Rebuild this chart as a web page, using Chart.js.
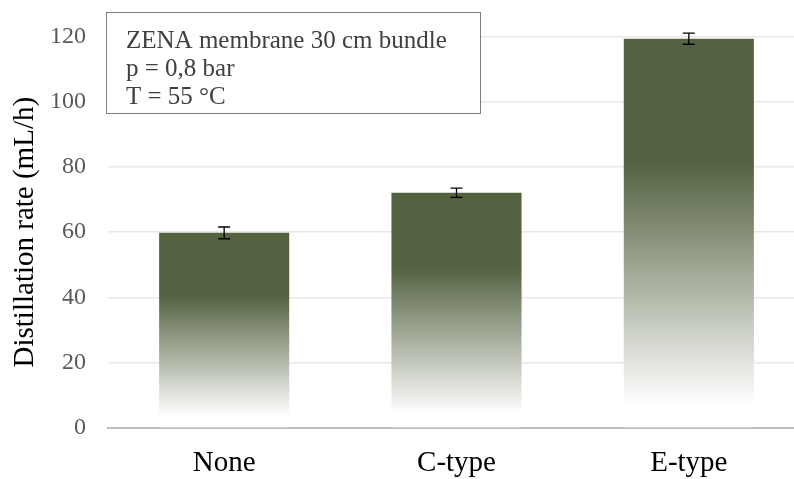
<!DOCTYPE html>
<html>
<head>
<meta charset="utf-8">
<script src="https://cdn.jsdelivr.net/npm/chart.js@4.4.0/dist/chart.umd.min.js"></script>
<style>
  html, body { margin: 0; padding: 0; background: #fff; overflow: hidden; }
  #wrap { width: 806px; height: 479px; }
</style>
</head>
<body>
<div id="wrap"><canvas id="chart"></canvas></div>
<script>
// donnees
const categories = ["None", "C-type", "E-type"];
const rates = [59.8, 72.1, 119.3];
const errors = [1.8, 1.4, 1.7];
const yTicks = [0, 20, 40, 60, 80, 100, 120];
const noteLines = ["ZENA membrane 30 cm bundle", "p = 0,8 bar", "T = 55 °C"];

const serif = "'Liberation Serif', 'Times New Roman', serif";
const olive = "#546241";

// degrade vertical propre a chaque barre
function barFill(c) {
    const chart = c.chart;
    const ys = chart.scales.y;
    if (c.type !== "data" || !ys) return olive;
    const top = ys.getPixelForValue(c.raw);
    const bot = ys.getPixelForValue(0);
    if (!isFinite(top) || !isFinite(bot) || bot <= top) return olive;
    const g = chart.ctx.createLinearGradient(0, top, 0, bot);
    g.addColorStop(0, olive);
    g.addColorStop(0.32, olive);
    g.addColorStop(0.94, "#ffffff");
    g.addColorStop(1, "#ffffff");
    return g;
}

// barres d'erreur
const errorBars = {
    id: "errorBars",
    afterDatasetsDraw(chart) {
        const ctx = chart.ctx;
        const ys = chart.scales.y;
        const meta = chart.getDatasetMeta(0);
        ctx.save();
        ctx.strokeStyle = "#000";
        ctx.lineWidth = 1.3;
        meta.data.forEach((bar, i) => {
            const hi = ys.getPixelForValue(rates[i] + errors[i]);
            const lo = ys.getPixelForValue(rates[i] - errors[i]);
            ctx.beginPath();
            ctx.moveTo(bar.x, hi); ctx.lineTo(bar.x, lo);
            ctx.moveTo(bar.x - 6, hi); ctx.lineTo(bar.x + 6, hi);
            ctx.moveTo(bar.x - 6, lo); ctx.lineTo(bar.x + 6, lo);
            ctx.stroke();
        });
        ctx.restore();
    }
};

// encadre de texte
const noteBox = {
    id: "noteBox",
    afterDraw(chart) {
        const ctx = chart.ctx;
        ctx.save();
        ctx.fillStyle = "#fff";
        ctx.fillRect(106, 12, 374, 101);
        ctx.strokeStyle = "#7f7f7f";
        ctx.lineWidth = 1;
        ctx.strokeRect(106.5, 12.5, 374, 101);
        ctx.fillStyle = "#404040";
        ctx.font = "25px " + serif;
        ctx.textBaseline = "alphabetic";
        noteLines.forEach((t, i) => ctx.fillText(t, 126, 48 + i * 28));
        ctx.restore();
    }
};

new Chart(document.getElementById("chart"), {
    type: "bar",
    data: {
        labels: categories,
        datasets: [{
            data: rates,
            backgroundColor: barFill,
            borderWidth: 0,
            barPercentage: 0.56,
            categoryPercentage: 1
        }]
    },
    options: {
        responsive: true,
        maintainAspectRatio: false,
        animation: false,
        events: [],
        layout: { padding: { top: 36, right: 1, left: 0, bottom: 0 } },
        plugins: { legend: { display: false }, tooltip: { enabled: false } },
        scales: {
            x: {
                grid: { display: false },
                border: { display: true, color: "#bfbfbf", width: 2 },
                ticks: { color: "#000", font: { family: serif, size: 29 }, padding: 10 },
                afterFit(s) { s.height = 51; }
            },
            y: {
                min: 0,
                max: 120,
                afterBuildTicks(s) { s.ticks = yTicks.map(v => ({ value: v })); },
                grid: { color: "#e8e8e8", lineWidth: 1.5, drawTicks: false },
                border: { display: false },
                ticks: { color: "#595959", font: { family: serif, size: 24 }, padding: 22 },
                title: {
                    display: true,
                    text: "Distillation rate (mL/h)",
                    color: "#000",
                    font: { family: serif, size: 29 },
                    padding: { top: 8, bottom: 0 }
                },
                afterFit(s) { s.width = 108; }
            }
        }
    },
    plugins: [errorBars, noteBox]
});
</script>
</body>
</html>
